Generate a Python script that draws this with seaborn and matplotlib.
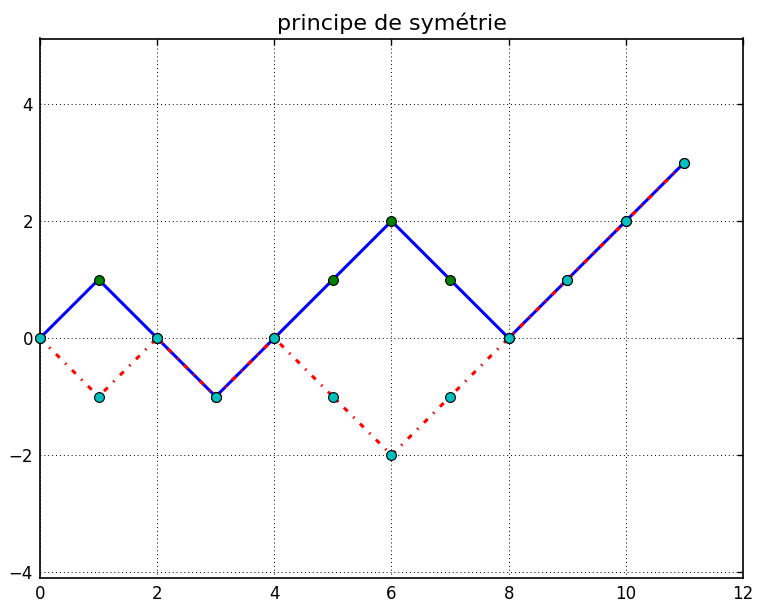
import matplotlib
matplotlib.use("Agg")
import matplotlib.pyplot as plt
import seaborn as sns
import pandas as pd

steps = [0, 1, 2, 3, 4, 5, 6, 7, 8, 9, 10, 11]
walk = [0, 1, 0, -1, 0, 1, 2, 1, 0, 1, 2, 3]
reflected = [0, -1, 0, -1, 0, -1, -2, -1, 0, 1, 2, 3]
title = "principe de symétrie"
xticks = [0, 2, 4, 6, 8, 10, 12]
yticks = [-4, -2, 0, 2, 4]

sns.set_style("white")
plt.rcParams['font.family'] = ['DejaVu Sans']
plt.rcParams['text.color'] = 'black'

df = pd.DataFrame({"x": steps, "walk": walk, "refl": reflected})

fig = plt.figure(figsize=(7.57, 6.01), dpi=100)
ax = fig.add_axes([40/757, 1-578/601, (743-40)/757, (578-38.5)/601])

sns.lineplot(data=df, x="x", y="walk", ax=ax, color="blue", lw=2.2, zorder=2, sort=False)
sns.lineplot(data=df, x="x", y="refl", ax=ax, color="red", lw=2.2, zorder=3, sort=False)
ax.lines[-1].set_dashes((1.7, 2.6, 0.5, 2.6))
sns.scatterplot(data=df, x="x", y="walk", ax=ax, color="green", edgecolor="black",
                linewidth=0.8, s=50, zorder=4, clip_on=False)
sns.scatterplot(data=df, x="x", y="refl", ax=ax, color="#00bfbf", edgecolor="black",
                linewidth=0.8, s=50, zorder=5, clip_on=False)

ax.set_xlim(0, 12)
ax.set_ylim(-4.1, 5.12)
ax.set_xticks(xticks)
ax.set_yticks(yticks)
ax.set_xticklabels([str(t) for t in xticks])
ax.set_yticklabels([("\u2212" + str(-t)) if t < 0 else str(t) for t in yticks])
ax.set_xlabel("")
ax.set_ylabel("")
ax.set_title(title, fontsize=16, pad=6, color="black")
ax.grid(True, color="black", linestyle=(0, (1, 3)), linewidth=0.7)
ax.tick_params(direction="in", length=4, width=1, top=True, right=True,
               labelsize=12, colors="black", pad=5)
for sp in ax.spines.values():
    sp.set_color("black")
    sp.set_linewidth(1.2)

fig.savefig("out.png", dpi=100)
